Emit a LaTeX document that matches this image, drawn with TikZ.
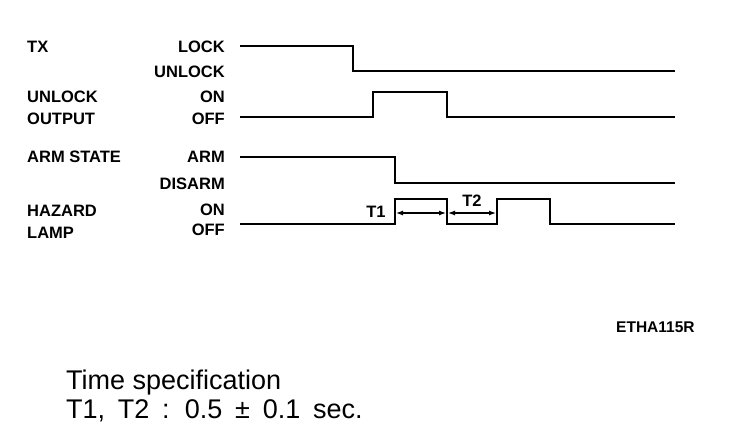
\documentclass[tikz,border=0pt]{standalone}
\usepackage{fontspec}
\setmainfont{Liberation Sans}
\newfontfamily\notefont[WordSpace=1.7]{Liberation Sans}
\usetikzlibrary{arrows.meta}
\tikzset{sig/.style={line width=1.6pt, line join=miter},
  signame/.style={anchor=west, font=\fontsize{16.5}{19}\selectfont\bfseries, align=left, inner sep=0pt},
  lvl/.style={anchor=east, font=\fontsize{16.5}{19}\selectfont\bfseries, inner sep=0pt},
  tlabel/.style={font=\fontsize{16.5}{19}\selectfont\bfseries, inner sep=0pt},
  note/.style={anchor=west, font=\fontsize{27}{30}\selectfont, inner sep=0pt},
  tspan/.style={line width=1.2pt, {Latex[length=7pt,width=5pt]}-{Latex[length=7pt,width=5pt]}}}

\begin{document}
\begin{tikzpicture}[x=1pt,y=-1pt]
\useasboundingbox (0,0) rectangle (752,446);
% signal names
\node[signame] (tx) at (27,47) {TX};
\node[signame] (uo1) at (27,97) {UNLOCK};
\node[signame] (uo2) at (27,119) {OUTPUT};
\node[signame] (arm) at (27,157) {ARM STATE};
\node[signame] (hz1) at (27,211) {HAZARD};
\node[signame] (hz2) at (27,233) {LAMP};
% levels
\node[lvl] (lock) at (225,47) {LOCK};
\node[lvl] (unlock) at (225,72) {UNLOCK};
\node[lvl] (uon) at (225,97) {ON};
\node[lvl] (uoff) at (225,119) {OFF};
\node[lvl] (sarm) at (225,157) {ARM};
\node[lvl] (sdis) at (225,184) {DISARM};
\node[lvl] (hon) at (225,210) {ON};
\node[lvl] (hoff) at (225,230) {OFF};
% waveforms
\draw[sig] (240,46) -- (353,46) -- (353,71) -- (675,71);
\draw[sig] (240,117) -- (373,117) -- (373,92) -- (447,92) -- (447,117) -- (675,117);
\draw[sig] (240,157) -- (395,157) -- (395,183) -- (675,183);
\draw[sig] (240,224) -- (395,224) -- (395,199) -- (447,199) -- (447,224)
  -- (497,224) -- (497,199) -- (550,199) -- (550,224) -- (675,224);
% timing spans
\coordinate (t1a) at (396,213);
\coordinate (t1b) at (446,213);
\coordinate (t2a) at (448,213);
\coordinate (t2b) at (496,213);
\draw[tspan] (t1a) -- (t1b);
\draw[tspan] (t2a) -- (t2b);
\node[tlabel] (t1) at (376,212) {T1};
\node[tlabel] (t2) at (472,201) {T2};
% figure id and note
\node[anchor=west, font=\fontsize{15.5}{18}\selectfont\bfseries, inner sep=0pt] (id) at (616,327) {ETHA115R};
\node[note] (head) at (66,383) {Time specification};
\node[note, font=\notefont\fontsize{27}{30}\selectfont] (spec) at (66,411) {T1, T2 : 0.5 ± 0.1 sec.};
\end{tikzpicture}
\end{document}
